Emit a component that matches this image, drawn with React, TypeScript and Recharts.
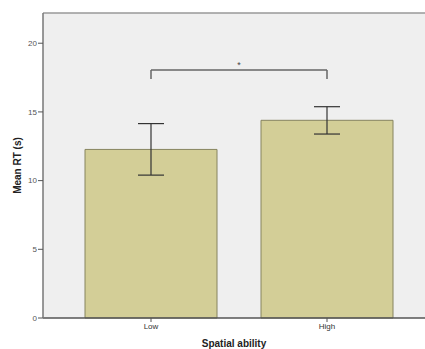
import { Bar, BarChart, CartesianGrid, ErrorBar, ReferenceLine, XAxis, YAxis } from 'recharts';

const groups = ['Low', 'High'];
const meanRT = [12.27, 14.39];
const ciLow = [1.87, 1.0];
const ciHigh = [1.88, 0.99];
const yTicks = [0, 5, 10, 15, 20];
const bracketY = 18.05;
const bracketFoot = 17.4;

const data = groups.map((g, i) => ({ group: g, rt: meanRT[i], err: [ciLow[i], ciHigh[i]] }));

const FONT = '"Liberation Sans", Arial, sans-serif';

function YLabel({ viewBox }: any) {
  const cx = viewBox.x + 17;
  const cy = viewBox.y + viewBox.height / 2;
  return (
    <text x={cx} y={cy} transform={`rotate(-90 ${cx} ${cy})`} textAnchor="middle" dominantBaseline="central"
      fontFamily={FONT} fontSize={10} fontWeight="bold" fill="#222">
      Mean RT (s)
    </text>
  );
}

function App() {
  return (
    <div style={{ width: 425, height: 349, background: '#fff' }}>
      <style>{'body{margin:0}'}</style>
      <BarChart width={425} height={349} data={data} margin={{ top: 13, right: 0, left: 0, bottom: 0 }} barSize={132}>
        <CartesianGrid fill="#efefef" horizontal={false} vertical={false} stroke="none" />
        <ReferenceLine y={22.2} stroke="#999" strokeWidth={1.5} />
        <XAxis
          dataKey="group"
          padding={{ left: 20, right: 10 }}
          height={31}
          tickSize={4}
          tickMargin={1}
          stroke="#555"
          axisLine={{ stroke: '#555', strokeWidth: 1.5 }}
          tick={{ fill: '#333', fontSize: 8, fontFamily: FONT }}
          label={{ value: 'Spatial ability', position: 'insideBottom', offset: 2, fontSize: 10, fontWeight: 'bold', fill: '#222', fontFamily: FONT }}
        />
        <YAxis
          width={43}
          domain={[0, 22.2]}
          ticks={yTicks}
          tickSize={5}
          tickMargin={1}
          stroke="#555"
          axisLine={{ stroke: '#777', strokeWidth: 1.5 }}
          tick={{ fill: '#555', fontSize: 8, fontFamily: FONT }}
          label={<YLabel />}
        />
        <Bar dataKey="rt" fill="#d3ce97" stroke="#86845f" strokeWidth={1} isAnimationActive={false}>
          <ErrorBar dataKey="err" width={13} stroke="#333" strokeWidth={1.2} isAnimationActive={false} />
        </Bar>
        <ReferenceLine segment={[{ x: 'Low', y: bracketY }, { x: 'High', y: bracketY }]} stroke="#666" strokeWidth={1.5}
          label={{ value: '*', position: 'top', fontSize: 9, fill: '#444', fontFamily: FONT, offset: 2 }} />
        <ReferenceLine segment={[{ x: 'Low', y: bracketY }, { x: 'Low', y: bracketFoot }]} stroke="#666" strokeWidth={1.5} />
        <ReferenceLine segment={[{ x: 'High', y: bracketY }, { x: 'High', y: bracketFoot }]} stroke="#666" strokeWidth={1.5} />
      </BarChart>
    </div>
  );
}

export default App;
